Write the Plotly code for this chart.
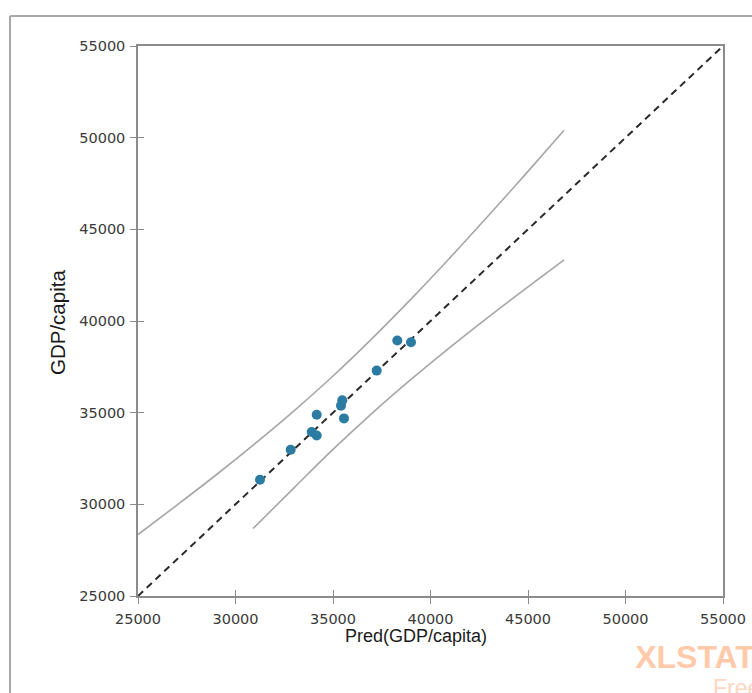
import plotly.graph_objects as go

# Observations: predicted vs observed GDP/capita
pred = [31256, 32831, 33908, 34164, 34164, 35410, 35477, 35564, 37241, 38297, 39000]
obs = [31338, 32977, 33944, 33759, 34890, 35382, 35671, 34688, 37294, 38933, 38840]

# Confidence curves
upper_x = [25000, 27000, 29000, 31000, 33000, 35000, 37000, 39000, 41000, 43000, 45000, 46850]
upper_y = [28350, 29960, 31600, 33310, 35100, 37000, 39040, 41190, 43450, 45780, 48160, 50400]
lower_x = [30900, 33000, 35000, 37000, 39000, 41000, 43000, 45000, 46850]
lower_y = [28680, 30900, 32995, 34965, 36810, 38560, 40240, 41860, 43330]

diag = [25000, 55000]
ticks = [25000, 30000, 35000, 40000, 45000, 50000, 55000]
tick_text = [str(t) for t in ticks]

W, H = 752, 693
L, R, T, B = 138, 723, 46, 596

def fx(p):
    return p / W
def fy(p):
    return (H - p) / H

fig = go.Figure()
fig.add_trace(go.Scatter(x=upper_x, y=upper_y, mode="lines", line=dict(color="#a6a6a6", width=1.6, shape="spline"),
                         showlegend=False, hoverinfo="skip"))
fig.add_trace(go.Scatter(x=lower_x, y=lower_y, mode="lines", line=dict(color="#a6a6a6", width=1.6, shape="spline"),
                         showlegend=False, hoverinfo="skip"))
fig.add_trace(go.Scatter(x=diag, y=diag, mode="lines", line=dict(color="#2a2a2a", width=2, dash="7px,5px"),
                         showlegend=False, hoverinfo="skip"))
fig.add_trace(go.Scatter(x=pred, y=obs, mode="markers", marker=dict(color="#2c7ba2", size=10),
                         showlegend=False))
# invisible trace for overlay axes (inside ticks)
fig.add_trace(go.Scatter(x=[25000], y=[25000], xaxis="x2", yaxis="y2", mode="markers",
                         marker=dict(opacity=0), showlegend=False, hoverinfo="skip"))
# watermark, clipped at the page edge by its own subplot
fig.add_trace(go.Scatter(x=[0.01, 0.67], y=[0.62, 0.06], xaxis="x3", yaxis="y3", mode="text",
                         text=["<b>XLSTAT</b>", "Free"], textposition="middle right",
                         textfont=dict(family="Liberation Sans", size=[32, 23], color=["#ffcaa9", "#ffd6bf"]),
                         cliponaxis=True, showlegend=False, hoverinfo="skip"))

axcommon = dict(range=[25000, 55000], tickvals=ticks, ticktext=tick_text, showgrid=False, zeroline=False,
                showline=True, linecolor="#8c8c8c", linewidth=1.5, mirror=True, automargin=False,
                ticks="outside", ticklen=6, tickwidth=1.2, tickcolor="#8c8c8c",
                tickfont=dict(family="DejaVu Sans", size=14.5, color="#3a3a3a"))

fig.update_layout(
    width=W, height=H, autosize=False,
    margin=dict(l=0, r=0, t=0, b=0, pad=0, autoexpand=False),
    paper_bgcolor="white", plot_bgcolor="white",
    xaxis=dict(**axcommon, domain=[fx(L), fx(R)], anchor="y", ticklabelstandoff=3),
    yaxis=dict(**axcommon, domain=[fy(B), fy(T)], anchor="x", ticklabelstandoff=2),
    xaxis2=dict(range=[25000, 55000], overlaying="x", anchor="y2", side="bottom", tickvals=ticks,
                showticklabels=False, ticks="inside", ticklen=6, tickwidth=1.2, tickcolor="#8c8c8c",
                showgrid=False, zeroline=False, showline=False, automargin=False),
    yaxis2=dict(range=[25000, 55000], overlaying="y", anchor="x2", side="left", tickvals=ticks,
                showticklabels=False, ticks="inside", ticklen=6, tickwidth=1.2, tickcolor="#8c8c8c",
                showgrid=False, zeroline=False, showline=False, automargin=False),
    xaxis3=dict(domain=[fx(634), 1.0], range=[0, 1], visible=False, anchor="y3", fixedrange=True,
                automargin=False),
    yaxis3=dict(domain=[0.0, fy(640)], range=[0, 1], visible=False, anchor="x3", fixedrange=True,
                automargin=False),
)

# outer frame lines (top and left)
fig.add_shape(type="line", xref="paper", yref="paper", x0=fx(10), y0=fy(16), x1=1.0, y1=fy(16),
              line=dict(color="#a8a8a8", width=2))
fig.add_shape(type="line", xref="paper", yref="paper", x0=fx(10), y0=fy(16), x1=fx(10), y1=0.0,
              line=dict(color="#a8a8a8", width=2))

# axis titles
fig.add_annotation(text="Pred(GDP/capita)", xref="paper", yref="paper", x=fx(416), y=fy(636),
                   xanchor="center", yanchor="middle", showarrow=False,
                   font=dict(family="Liberation Sans", size=18, color="#1a1a1a"))
fig.add_annotation(text="GDP/capita", xref="paper", yref="paper", x=fx(57), y=fy(323),
                   xanchor="center", yanchor="middle", showarrow=False, textangle=-90,
                   font=dict(family="Liberation Sans", size=20.5, color="#1a1a1a"))

fig.write_html("out.html")
